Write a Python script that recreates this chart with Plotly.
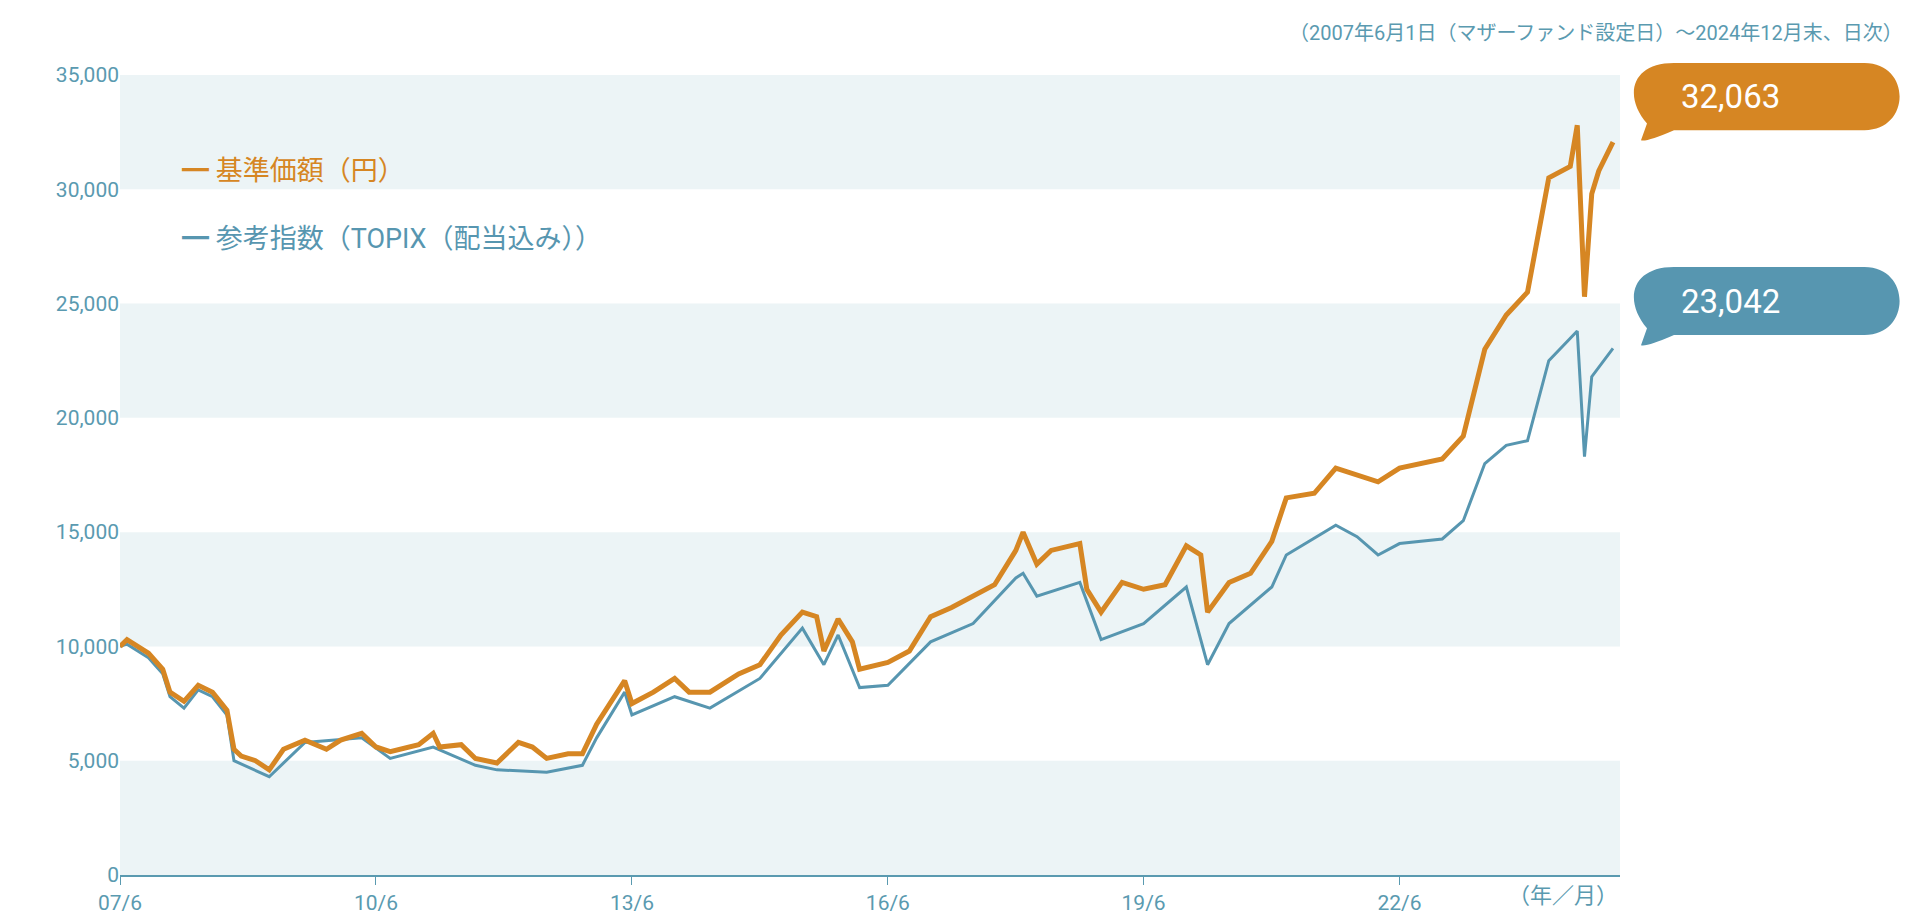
import plotly.graph_objects as go

# 基準価額（円）
fund_dates = ["2007-06", "2007-07", "2007-10", "2007-12", "2008-01", "2008-03", "2008-05", "2008-07",
              "2008-09", "2008-10", "2008-11", "2009-01", "2009-03", "2009-05", "2009-08", "2009-11",
              "2010-01", "2010-04", "2010-06", "2010-08", "2010-12", "2011-02", "2011-03", "2011-06",
              "2011-08", "2011-11", "2012-02", "2012-04", "2012-06", "2012-09", "2012-11", "2013-01",
              "2013-05", "2013-06", "2013-09", "2013-12", "2014-02", "2014-05", "2014-09", "2014-12",
              "2015-03", "2015-06", "2015-08", "2015-09", "2015-11", "2016-01", "2016-02", "2016-06",
              "2016-09", "2016-12", "2017-03", "2017-06", "2017-09", "2017-12", "2018-01", "2018-03",
              "2018-05", "2018-09", "2018-10", "2018-12", "2019-03", "2019-06", "2019-09", "2019-12",
              "2020-02", "2020-03", "2020-06", "2020-09", "2020-12", "2021-02", "2021-06", "2021-09",
              "2021-12", "2022-03", "2022-06", "2022-09", "2022-12", "2023-03", "2023-06", "2023-09",
              "2023-12", "2024-03", "2024-06", "2024-07", "2024-08", "2024-09", "2024-10", "2024-12"]
fund_values = [10000, 10300, 9700, 9000, 8000, 7600, 8300, 8000,
               7200, 5500, 5200, 5000, 4600, 5500, 5900, 5500,
               5900, 6200, 5600, 5400, 5700, 6200, 5600, 5700,
               5100, 4900, 5800, 5600, 5100, 5300, 5300, 6600,
               8500, 7500, 8000, 8600, 8000, 8000, 8800, 9200,
               10500, 11500, 11300, 9800, 11200, 10200, 9000, 9300,
               9800, 11300, 11700, 12200, 12700, 14200, 15000, 13600,
               14200, 14500, 12500, 11500, 12800, 12500, 12700, 14400,
               14000, 11500, 12800, 13200, 14600, 16500, 16700, 17800,
               17500, 17200, 17800, 18000, 18200, 19200, 23000, 24500,
               25500, 30500, 31000, 32800, 25300, 29800, 30800, 32063]

# 参考指数（TOPIX（配当込み））
topix_dates = ["2007-06", "2007-07", "2007-10", "2007-12", "2008-01", "2008-03", "2008-05", "2008-07",
               "2008-09", "2008-10", "2009-03", "2009-08", "2010-04", "2010-08", "2011-02", "2011-08",
               "2011-11", "2012-06", "2012-11", "2013-01", "2013-05", "2013-06", "2013-12", "2014-05",
               "2014-12", "2015-06", "2015-09", "2015-11", "2016-02", "2016-06", "2016-12", "2017-06",
               "2017-12", "2018-01", "2018-03", "2018-09", "2018-12", "2019-06", "2019-12", "2020-03",
               "2020-06", "2020-12", "2021-02", "2021-09", "2021-12", "2022-03", "2022-06", "2022-12",
               "2023-03", "2023-06", "2023-09", "2023-12", "2024-03", "2024-07", "2024-08", "2024-09",
               "2024-12"]
topix_values = [10000, 10100, 9500, 8800, 7800, 7300, 8100, 7800,
                7000, 5000, 4300, 5800, 6000, 5100, 5600, 4800,
                4600, 4500, 4800, 6000, 8000, 7000, 7800, 7300,
                8600, 10800, 9200, 10500, 8200, 8300, 10200, 11000,
                13000, 13200, 12200, 12800, 10300, 11000, 12600, 9200,
                11000, 12600, 14000, 15300, 14800, 14000, 14500, 14700,
                15500, 18000, 18800, 19000, 22500, 23800, 18300, 21800,
                23042]

y_ticks = [0, 5000, 10000, 15000, 20000, 25000, 30000, 35000]
x_tick_dates = ["2007-06-01", "2010-06-01", "2013-06-01", "2016-06-01", "2019-06-01", "2022-06-01"]
x_tick_labels = ["07/6", "10/6", "13/6", "16/6", "19/6", "22/6"]

ORANGE = "#d68623"
BLUE = "#5796b0"
TEXT = "#5a9ab0"
BAND = "#ecf4f6"
FONT = "Roboto, Noto Sans CJK JP, sans-serif"

fig = go.Figure()
fig.add_trace(go.Scatter(x=topix_dates, y=topix_values, mode="lines",
                         line=dict(color=BLUE, width=3), showlegend=False))
fig.add_trace(go.Scatter(x=fund_dates, y=fund_values, mode="lines",
                         line=dict(color=ORANGE, width=5), showlegend=False))

# 背景の帯
for lo in (0, 10000, 20000, 30000):
    fig.add_shape(type="rect", xref="paper", yref="y", x0=0, x1=1, y0=lo, y1=lo + 5000,
                  fillcolor=BAND, line_width=0, layer="below")


def bubble(y_top, y_bot, color):
    # 角丸の吹き出し（paper座標）
    x0, x1 = 1.012, 1.187
    rx = 0.024
    ym = (y_top + y_bot) / 2
    ry = (y_top - y_bot) / 2
    path = (f"M{x0 + rx},{y_top} L{x1 - rx},{y_top} "
            f"C{x1 + rx * 0.3},{y_top} {x1 + rx * 0.3},{y_bot} {x1 - rx},{y_bot} "
            f"L{x0 + rx},{y_bot} "
            f"Q{x0 + 0.006},{y_bot - ry * 0.35} {x0 + 0.002},{y_bot - ry * 0.3} "
            f"Q{x0 + 0.004},{y_bot - ry * 0.05} {x0 + 0.006},{y_bot + ry * 0.2} "
            f"C{x0 - rx * 0.4},{ym} {x0 - rx * 0.2},{y_top} {x0 + rx},{y_top} Z")
    fig.add_shape(type="path", xref="paper", yref="paper", path=path,
                  fillcolor=color, line_width=0)


bubble(1.015, 0.931, ORANGE)
bubble(0.760, 0.675, BLUE)
fig.add_annotation(x=1.108, y=0.973, xref="paper", yref="paper", yanchor="middle",
                   text=f"{fund_values[-1]:,}", showarrow=False,
                   font=dict(size=33, color="white", family=FONT))
fig.add_annotation(x=1.108, y=0.7175, xref="paper", yref="paper", yanchor="middle",
                   text=f"{topix_values[-1]:,}", showarrow=False,
                   font=dict(size=33, color="white", family=FONT))

# 凡例
fig.add_annotation(x=0.04, y=0.902, xref="paper", yref="paper", xanchor="left",
                   text="━ 基準価額（円）", showarrow=False,
                   font=dict(size=27, color=ORANGE, family=FONT))
fig.add_annotation(x=0.04, y=0.818, xref="paper", yref="paper", xanchor="left",
                   text="━ 参考指数（TOPIX（配当込み））", showarrow=False,
                   font=dict(size=27, color=BLUE, family=FONT))

fig.add_annotation(x=1.19, y=1.035, xref="paper", yref="paper", xanchor="right", yanchor="bottom",
                   text="（2007年6月1日（マザーファンド設定日）～2024年12月末、日次）",
                   showarrow=False, font=dict(size=20, color=TEXT, family=FONT))
fig.add_annotation(x=1.0, y=0, xref="paper", yref="paper", xanchor="right", yanchor="top",
                   yshift=-6, text="（年／月）", showarrow=False,
                   font=dict(size=22, color=TEXT, family=FONT))

fig.update_layout(
    width=1915, height=919,
    margin=dict(l=112, r=303, t=67, b=52),
    plot_bgcolor="white", paper_bgcolor="white",
    font=dict(family=FONT, size=21, color=TEXT),
)
fig.update_xaxes(range=["2007-06-01", "2024-12-31"], tickvals=x_tick_dates, ticktext=x_tick_labels,
                 showgrid=False, showline=True, linecolor=TEXT, linewidth=1.5,
                 ticks="outside", ticklen=8, tickcolor=TEXT, zeroline=False)
fig.update_yaxes(range=[0, 35000], tickvals=y_ticks, tickformat=",", showgrid=False,
                 zeroline=False, showline=False, ticks="")

fig.write_html("out.html")
